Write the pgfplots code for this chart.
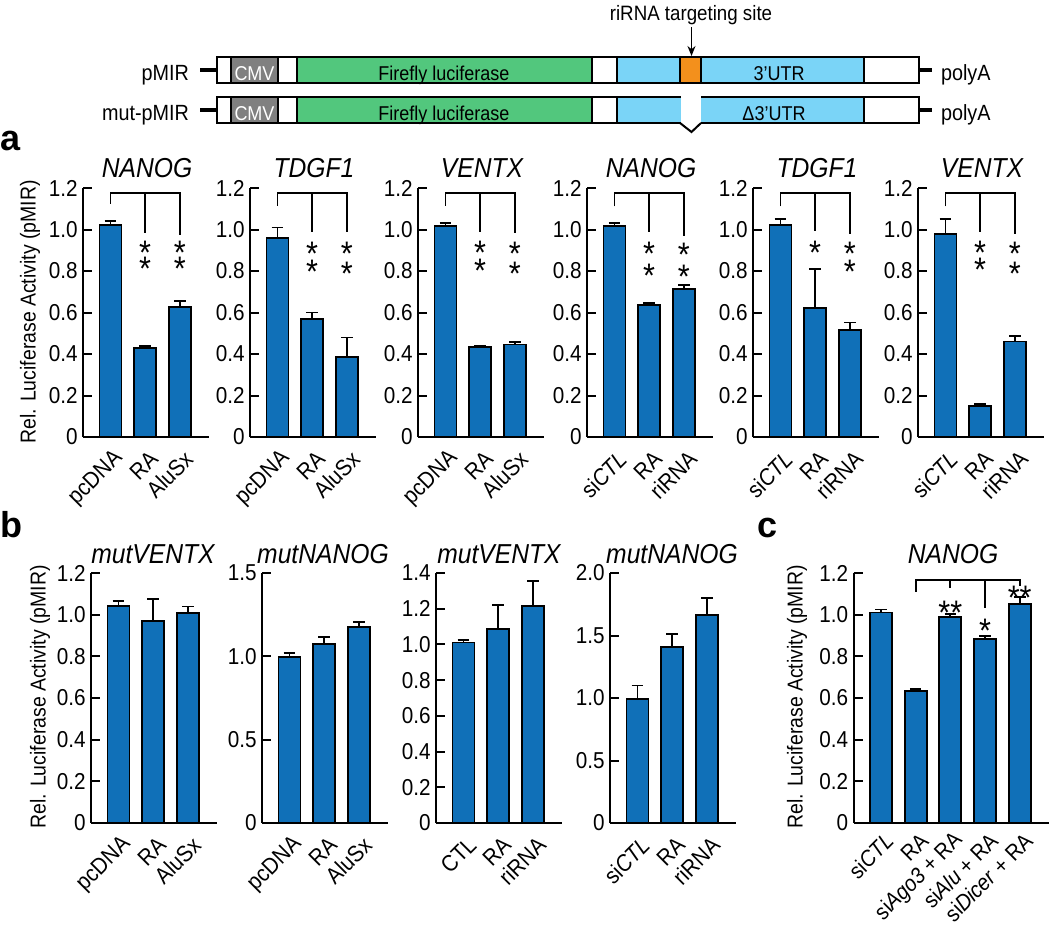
\documentclass[border=0pt]{standalone}
\usepackage{fontspec}
\setmainfont{Liberation Sans}[FakeStretch=0.9]
\newfontfamily\letterfont{Liberation Sans}
\usepackage{pgfplots}
\pgfplotsset{compat=1.18}
\usetikzlibrary{arrows.meta}

\definecolor{barblue}{RGB}{16,112,184}
\definecolor{cmvgray}{RGB}{128,128,128}
\definecolor{lucgreen}{RGB}{82,199,125}
\definecolor{utrblue}{RGB}{122,212,247}
\definecolor{siteorange}{RGB}{243,144,28}

\newcommand\fs[1]{\fontsize{#1}{#1}\selectfont}

\pgfplotsset{
  luc/.style={
    anchor=south west, x=17.35pt,
    axis lines=left, axis line style={-, line width=1pt},
    xmin=-0.79, xmax=2.84, ymin=0,
    enlargelimits=false, clip=false,
    xtick={0,1,2}, xtick style={draw=none},
    tick align=inside, major tick length=4.5pt,
    ytick style={line width=1pt, black},
    /pgf/number format/assume math mode=true,
    yticklabel style={font=\fs{11.5}, inner sep=2.5pt},
    xticklabel style={font=\fs{11.5}, xshift=4.5pt, yshift=-4.5pt, rotate=45, anchor=east, inner sep=0pt},
    ybar, bar width=11pt,
    error bars/y dir=plus, error bars/y explicit,
    error bars/error bar style={line width=0.9pt, black},
    error bars/error mark options={rotate=90, mark size=2.9pt, line width=0.9pt, black},
  },
  ya/.style={y=103.75pt, ymax=1.2,
    ytick={0,0.2,0.4,0.6,0.8,1.0,1.2}, yticklabels={0,0.2,0.4,0.6,0.8,1.0,1.2}},
  lucbar/.style={fill=barblue, draw=black, line width=0.9pt},
}
\tikzset{sig/.style={font=\fs{17}, inner sep=0pt, anchor=center, yshift=-9.8pt}}
\newcommand\st[1]{\smash{#1}}

% bracket: left drop, middle drop, right drop
\newcommand\brk[3]{%
  \draw[line width=0.9pt] (0,#1) |- (2,1.175) -- (2,#3);
  \draw[line width=0.9pt] (1,1.175) -- (1,#2);}

\begin{document}
\begin{tikzpicture}

% ---- panel a ----
\begin{axis}[luc, ya, at={(41.5pt,-218.5pt)}, xticklabels={pcDNA,RA,AluSx}]
\addplot[lucbar] coordinates {(0,1.02) +- (0,0.02) (1,0.43) +- (0,0.01) (2,0.625) +- (0,0.03)};
\brk{1.125}{0.983}{0.975}
\node[sig] at (1,0.925) {\st*}; \node[sig] at (1,0.848) {\st*};
\node[sig] at (2,0.925) {\st*}; \node[sig] at (2,0.848) {\st*};
\end{axis}

\begin{axis}[luc, ya, at={(125pt,-218.5pt)}, xticklabels={pcDNA,RA,AluSx}]
\addplot[lucbar] coordinates {(0,0.96) +- (0,0.05) (1,0.57) +- (0,0.03) (2,0.385) +- (0,0.095)};
\brk{1.115}{0.99}{0.987}
\node[sig] at (1,0.923) {\st*}; \node[sig] at (1,0.832) {\st*};
\node[sig] at (2,0.92) {\st*}; \node[sig] at (2,0.827) {\st*};
\end{axis}

\begin{axis}[luc, ya, at={(209pt,-218.5pt)}, xticklabels={pcDNA,RA,AluSx}]
\addplot[lucbar] coordinates {(0,1.015) +- (0,0.015) (1,0.435) +- (0,0.006) (2,0.446) +- (0,0.012)};
\brk{1.115}{0.99}{0.985}
\node[sig] at (1,0.928) {\st*}; \node[sig] at (1,0.84) {\st*};
\node[sig] at (2,0.92) {\st*}; \node[sig] at (2,0.826) {\st*};
\end{axis}

\begin{axis}[luc, ya, at={(293.5pt,-218.5pt)}, xticklabels={si\textit{CTL},RA,riRNA}]
\addplot[lucbar] coordinates {(0,1.015) +- (0,0.016) (1,0.635) +- (0,0.01) (2,0.715) +- (0,0.016)};
\brk{1.112}{0.99}{0.97}
\node[sig] at (1,0.92) {\st*}; \node[sig] at (1,0.816) {\st*};
\node[sig] at (2,0.915) {\st*}; \node[sig] at (2,0.81) {\st*};
\end{axis}

\begin{axis}[luc, ya, at={(376.5pt,-218.5pt)}, xticklabels={si\textit{CTL},RA,riRNA}]
\addplot[lucbar] coordinates {(0,1.02) +- (0,0.032) (1,0.62) +- (0,0.19) (2,0.517) +- (0,0.035)};
\brk{1.112}{0.992}{0.976}
\node[sig] at (1,0.925) {\st*};
\node[sig] at (2,0.92) {\st*}; \node[sig] at (2,0.832) {\st*};
\end{axis}

\begin{axis}[luc, ya, at={(459pt,-218.5pt)}, xticklabels={si\textit{CTL},RA,riRNA}]
\addplot[lucbar] coordinates {(0,0.98) +- (0,0.07) (1,0.15) +- (0,0.01) (2,0.46) +- (0,0.025)};
\brk{1.112}{0.99}{0.976}
\node[sig] at (1,0.928) {\st*}; \node[sig] at (1,0.843) {\st*};
\node[sig] at (2,0.92) {\st*}; \node[sig] at (2,0.827) {\st*};
\end{axis}

% ---- panel b ----
\begin{axis}[luc, at={(45.5pt,-411.5pt)}, y=104.17pt, ymax=1.2,
  ytick={0,0.2,0.4,0.6,0.8,1.0,1.2}, yticklabels={0,0.2,0.4,0.6,0.8,1.0,1.2},
  xticklabels={pcDNA,RA,AluSx}]
\addplot[lucbar] coordinates {(0,1.04) +- (0,0.024) (1,0.97) +- (0,0.107) (2,1.007) +- (0,0.032)};
\end{axis}

\begin{axis}[luc, at={(131pt,-411.5pt)}, y=83.33pt, ymax=1.5,
  ytick={0,0.5,1.0,1.5}, yticklabels={0,0.5,1.0,1.5},
  xticklabels={pcDNA,RA,AluSx}]
\addplot[lucbar] coordinates {(0,0.996) +- (0,0.026) (1,1.072) +- (0,0.043) (2,1.175) +- (0,0.032)};
\end{axis}

\begin{axis}[luc, at={(218pt,-411.5pt)}, y=89.29pt, ymax=1.4,
  ytick={0,0.2,0.4,0.6,0.8,1.0,1.2,1.4}, yticklabels={0,0.2,0.4,0.6,0.8,1.0,1.2,1.4},
  xticklabels={CTL,RA,riRNA}]
\addplot[lucbar] coordinates {(0,1.011) +- (0,0.015) (1,1.088) +- (0,0.134) (2,1.213) +- (0,0.14)};
\end{axis}

\begin{axis}[luc, at={(305pt,-411.5pt)}, y=62.5pt, ymax=2.0,
  ytick={0,0.5,1.0,1.5,2.0}, yticklabels={0,0.5,1.0,1.5,2.0},
  xticklabels={si\textit{CTL},RA,riRNA}]
\addplot[lucbar] coordinates {(0,0.993) +- (0,0.107) (1,1.409) +- (0,0.1) (2,1.664) +- (0,0.136)};
\end{axis}

% ---- panel c ----
\begin{axis}[luc, at={(426.75pt,-411.5pt)}, y=104.17pt, ymax=1.2, xmax=4.83,
  ytick={0,0.2,0.4,0.6,0.8,1.0,1.2}, yticklabels={0,0.2,0.4,0.6,0.8,1.0,1.2},
  xtick={0,1,2,3,4},
  every x tick label/.style={font=\fs{11.2}, xshift=4.5pt, yshift=-2.5pt, rotate=45, anchor=east, inner sep=0pt},
  xticklabels={si\textit{CTL},RA,si\textit{Ago3} + RA,si\textit{Alu} + RA,si\textit{Dicer} + RA}]
\addplot[lucbar] coordinates {(0,1.01) +- (0,0.015) (1,0.633) +- (0,0.011) (2,0.99) +- (0,0.015)
  (3,0.882) +- (0,0.016) (4,1.052) +- (0,0.034)};
\draw[line width=0.9pt] (1,1.11) |- (4,1.168) -- (4,1.14);
\draw[line width=0.9pt] (2,1.168) -- (2,1.13);
\draw[line width=0.9pt] (3,1.168) -- (3,1.03);
\node[sig] at (2,1.049) {\st{**}};
\node[sig] at (3,0.962) {\st*};
\node[sig] at (4,1.119) {\st{**}};
\end{axis}

% ---- texts and construct diagram, in image pixels ----
\begin{scope}[x=0.5pt, y=-0.5pt]
\foreach \xx/\tt in {147/NANOG,314/TDGF1,482/VENTX,651/NANOG,817/TDGF1,982/VENTX}
  \node[anchor=base, font=\fs{13.7}\itshape] at (\xx,177) {\tt};
\foreach \xx/\tt in {153/mutVENTX,323/mutNANOG,499/mutVENTX,672/mutNANOG,953/NANOG}
  \node[anchor=base, font=\fs{13.7}\itshape] at (\xx,563) {\tt};

\node[rotate=90, font=\fs{10.8}] at (30,312) {Rel. Luciferase Activity (pMIR)};
\node[rotate=90, font=\fs{10.8}] at (40,697) {Rel. Luciferase Activity (pMIR)};
\node[rotate=90, font=\fs{10.8}] at (797,697) {Rel. Luciferase Activity (pMIR)};

\node[anchor=base west, inner sep=0pt, font=\letterfont\bfseries\fs{18}] at (0,150) {a};
\node[anchor=base west, inner sep=0pt, font=\letterfont\bfseries\fs{18}] at (0,537) {b};
\node[anchor=base west, inner sep=0pt, font=\letterfont\bfseries\fs{18}] at (757,537) {c};

% pMIR row
\fill[white] (217,57) rectangle (919,83);
\fill[cmvgray] (231,57) rectangle (278,83);
\fill[lucgreen] (297,57) rectangle (592,83);
\fill[utrblue] (617,57) rectangle (864,83);
\fill[siteorange] (680,57) rectangle (701,83);
\draw[line width=1pt] (217,57) rectangle (919,83);
\foreach \xx in {231,278,297,592,617,680,701,864} \draw[line width=1pt] (\xx,57) -- (\xx,83);
\draw[line width=1.6pt] (200,70) -- (217,70) (919,70) -- (932,70);
\node[anchor=base east, font=\fs{11}] at (196,80) {pMIR};
\node[anchor=base west, font=\fs{11}] at (934,80) {polyA};
\node[anchor=base, text=white, font=\fs{10}] at (254.5,80) {CMV};
\node[anchor=base, font=\fs{10}] at (444,80) {Firefly luciferase};
\node[anchor=base, font=\fs{10}] at (779,80) {3'UTR};

% mut-pMIR row
\fill[white] (217,97) rectangle (919,123);
\fill[cmvgray] (231,97) rectangle (278,123);
\fill[lucgreen] (297,97) rectangle (592,123);
\fill[utrblue] (617,97) rectangle (864,123);
\draw[line width=1pt] (217,97) rectangle (919,123);
\foreach \xx in {231,278,297,592,617,864} \draw[line width=1pt] (\xx,97) -- (\xx,123);
\fill[white] (680.5,95) rectangle (700.5,125);
\draw[line width=1pt] (680,123) -- (691.5,132) -- (701,123);
\draw[line width=1.6pt] (200,110) -- (217,110) (919,110) -- (932,110);
\node[anchor=base east, font=\fs{11}] at (196,120) {mut-pMIR};
\node[anchor=base west, font=\fs{11}] at (934,120) {polyA};
\node[anchor=base, text=white, font=\fs{10}] at (254.5,120) {CMV};
\node[anchor=base, font=\fs{10}] at (444,120) {Firefly luciferase};
\node[anchor=base, font=\fs{10}] at (774,120) {Δ3'UTR};

\node[anchor=base, font=\fs{10.4}] at (691,20.5) {riRNA targeting site};
\draw[-{Stealth[length=5pt,width=4pt]}, line width=0.8pt] (691.5,27) -- (691.5,56);
\end{scope}

\pgfresetboundingbox
\path (0,0) rectangle (525pt,-463pt);
\end{tikzpicture}
\end{document}
